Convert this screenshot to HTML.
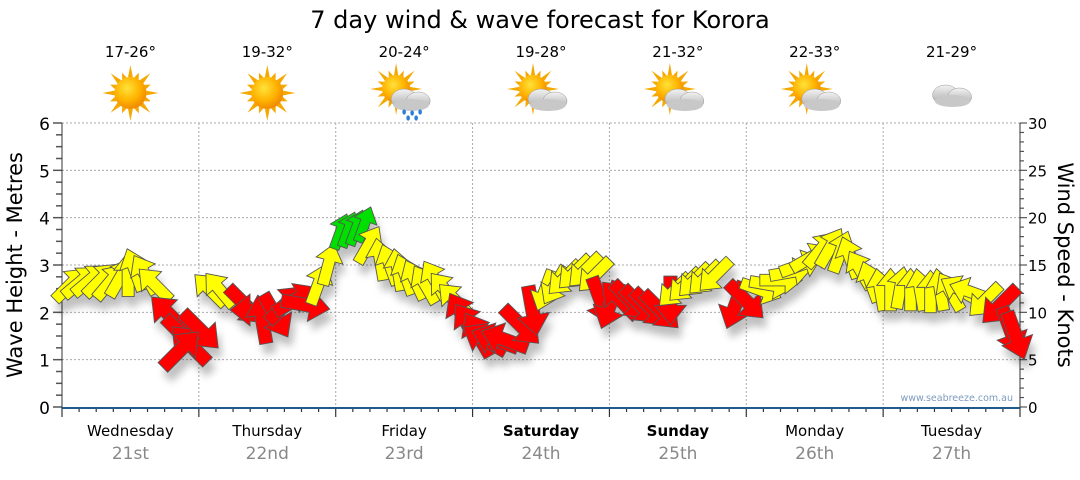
<!DOCTYPE html>
<html><head><meta charset="utf-8"><style>
body{margin:0;background:#fff;font-family:"Liberation Sans",sans-serif}
svg text{font-family:"DejaVu Sans","Liberation Sans",sans-serif}
</style></head><body>
<svg id="c" width="1080" height="475" viewBox="0 0 1080 475">
<defs>
<radialGradient id="sg" cx="40%" cy="35%" r="65%"><stop offset="0" stop-color="#ffe23a"/><stop offset="0.6" stop-color="#ffb300"/><stop offset="1" stop-color="#f08a00"/></radialGradient>
<linearGradient id="cg" x1="0" y1="0" x2="0" y2="1"><stop offset="0" stop-color="#f2f2f2"/><stop offset="1" stop-color="#a8a8a8"/></linearGradient>
<filter id="sh" x="-50%" y="-50%" width="200%" height="200%"><feGaussianBlur stdDeviation="4"/></filter>
</defs>
<text x="540" y="28" text-anchor="middle" font-size="24" fill="#000">7 day wind &amp; wave forecast for Korora</text>
<g id="grid"></g><g id="axes"></g><g id="icons"></g><g id="marks"></g>
<text x="1013" y="401" text-anchor="end" font-size="9.5" fill="#7d9bbf">www.seabreeze.com.au</text>
<text transform="translate(22,265) rotate(-90)" text-anchor="middle" font-size="21">Wave Height - Metres</text>
<text transform="translate(1058,265) rotate(90)" text-anchor="middle" font-size="21">Wind Speed - Knots</text>
</svg>
<script>
const days=["Wednesday","Thursday","Friday","Saturday","Sunday","Monday","Tuesday"];
const dates=["21st","22nd","23rd","24th","25th","26th","27th"];
const temps=["17-26°","19-32°","20-24°","19-28°","21-32°","22-33°","21-29°"];
const weather=["sun","sun","rain","partly","partly","partly","cloud"];
const leftTicks=[0,1,2,3,4,5,6];
const rightTicks=[0,5,10,15,20,25,30];
const hours=[1.4,3.2,4.9,6.7,8.4,10.2,11.6,12.8,14.6,16.3,18.9,21.1,22.5,24.2,20.7,26,27.7,32.1,33.9,35.1,37.4,39.1,40.9,42.6,44.9,46.7,48.8,50.2,51.6,53,53.7,55.8,57.5,58.9,60.2,61.9,63.7,65.4,67.2,68.9,70.2,71.6,73,74.2,76,77.7,80.4,82.5,84.7,86.5,88.2,90,91.8,93.5,94.4,96.1,97.9,99.6,101.4,103.2,104.9,106.7,107.5,109.3,111,112.8,114.6,118.1,119.8,122.5,124.2,126,127.7,129.5,131.2,133,134.7,136.5,138.2,140,141.8,143.5,145.3,147,148.8,150.5,152.3,154,155.8,157.5,159.3,161.9,164.6,166.3,167.2];
const waves=[2.58,2.64,2.68,2.68,2.64,2.73,2.79,2.89,2.79,2.58,1.94,1.52,1.31,1.63,1.2,2.47,2.47,2.16,2.05,1.84,1.94,2.16,2.26,2.16,2.58,3.0,3.7,3.74,3.78,3.85,3.42,3.11,3.0,2.89,2.79,2.68,2.58,2.68,2.47,2.26,1.94,1.73,1.52,1.42,1.42,1.42,1.73,2.05,2.47,2.58,2.73,2.85,2.89,2.79,2.26,2.16,2.26,2.26,2.16,2.1,2.05,2.26,2.47,2.58,2.68,2.73,2.79,2.16,2.26,2.47,2.58,2.68,2.85,3.0,3.15,3.32,3.36,3.27,3.15,2.89,2.64,2.47,2.47,2.51,2.47,2.47,2.43,2.47,2.43,2.47,2.43,2.26,2.16,1.63,1.52];
const dirs=[45,50,50,45,40,30,0,-20,-30,-45,-45,135,-45,135,45,-45,-40,135,-90,-10,150,45,60,100,20,15,20,20,20,20,30,-10,-20,-10,-20,-25,-30,-30,-40,-45,-30,-35,-30,-60,-70,-70,135,170,200,210,225,225,225,225,160,200,-45,135,135,135,135,180,225,225,225,225,225,200,135,110,100,90,80,70,60,40,30,20,-20,-30,-20,-10,0,10,0,-10,0,-10,-30,-60,-70,225,225,160,160];
const speeds=[15,15,15,15,15,15,16,16,15,15,22,22,22,22,22,14,14,21,21,21,21,21,21,21,14,14,8,8,8,8,13,14,14,14,14,14,14,14,14,14,21,21,21,21,21,21,22,22,14,14,15,15,15,15,21,21,21,21,21,21,21,21,14,14,14,14,14,21,21,14,14,14,14,15,15,15,15,15,15,14,14,14,14,14,14,14,14,14,14,14,14,14,21,21,22,22];
const NS="http://www.w3.org/2000/svg";
const X0=62,X1=1020,Y0=407,Y6=123;
const xs=h=>X0+h*(X1-X0)/168;
const ym=m=>Y0-m*(Y0-Y6)/6;
const yk=k=>Y0-k*(Y0-Y6)/30;
function el(tag,at,parent){const e=document.createElementNS(NS,tag);for(const k in at)e.setAttribute(k,at[k]);parent.appendChild(e);return e;}
const grid=document.getElementById('grid'),axes=document.getElementById('axes'),icons=document.getElementById('icons'),marks=document.getElementById('marks');
leftTicks.forEach(v=>{if(v>0){const g=el('line',{x1:X0,x2:X1,y1:ym(v),y2:ym(v),stroke:'#aaa','stroke-dasharray':'2,2','stroke-width':1},grid);

}
const t=el('text',{x:50,y:ym(v)+7,'text-anchor':'end','font-size':17},axes);t.textContent=v;

});
for(let i=0;i<=24;i++){const v=i*0.25;el('line',{x1:i%4==0?53:56,x2:X0,y1:ym(v),y2:ym(v),stroke:'#555','stroke-width':1.5},axes);}
rightTicks.forEach(v=>{const t=el('text',{x:1028,y:yk(v)+6,'font-size':15},axes);t.textContent=v;

});
for(let i=0;i<=30;i++){el('line',{x1:X1,x2:i%5==0?1027:1024,y1:yk(i),y2:yk(i),stroke:'#555','stroke-width':1.2},axes);}
el('line',{x1:X0,x2:X0,y1:Y6,y2:Y0,stroke:'#333'},axes);
el('line',{x1:X1,x2:X1,y1:Y6,y2:Y0,stroke:'#333'},axes);
for(let d=1;d<7;d++){const g=el('line',{x1:xs(d*24),x2:xs(d*24),y1:Y6,y2:Y0,stroke:'#aaa','stroke-dasharray':'2,2'},grid);

}
for(let h=0;h<=168;h+=3){el('line',{x1:xs(h),x2:xs(h),y1:Y0,y2:h%24==0?417:412,stroke:'#333','stroke-width':1.2},axes);}
el('line',{x1:X0,x2:X1,y1:Y0+1,y2:Y0+1,stroke:'#1f5a8a','stroke-width':2},axes);
days.forEach((d,i)=>{const cx=xs(i*24+12);
const t=el('text',{x:cx,y:436,'text-anchor':'middle','font-size':15,'font-weight':(i==3||i==4)?'bold':'normal'},axes);t.textContent=d;


const t2=el('text',{x:cx,y:459,'text-anchor':'middle','font-size':17,fill:'#888'},axes);t2.textContent=dates[i];


const t3=el('text',{x:cx,y:57,'text-anchor':'middle','font-size':15},icons);t3.textContent=temps[i];


const g=el('g',{transform:`translate(${cx},${93})`},icons);


const w=weather[i];
if(w!="cloud"){const sx=w=="sun"?0:-8,sy=w=="sun"?0:-4,r=w=="sun"?16:14;
for(let a=0;a<16;a++){const ang=a*Math.PI/8,L=(a%2?r+6:r+12);
const p1=[sx+Math.cos(ang)*L,sy+Math.sin(ang)*L],p2=[sx+Math.cos(ang+0.15)*r,sy+Math.sin(ang+0.15)*r],p3=[sx+Math.cos(ang-0.15)*r,sy+Math.sin(ang-0.15)*r];
el('polygon',{points:[p1,p2,p3].map(p=>p.join(',')).join(' '),fill:'#f5a800'},g);}
el('circle',{cx:sx,cy:sy,r:r,fill:'url(#sg)'},g);}
if(w!="sun"){const ox=w=="cloud"?0:6,oy=w=="cloud"?0:4;
el('ellipse',{cx:ox-6,cy:oy+2,rx:13,ry:10,fill:'url(#cg)',stroke:'#999','stroke-width':0.5},g);
el('ellipse',{cx:ox+8,cy:oy+4,rx:12,ry:9,fill:'url(#cg)',stroke:'#999','stroke-width':0.5},g);
el('ellipse',{cx:ox+1,cy:oy+8,rx:18,ry:6,fill:'#c8c8c8'},g);
if(w=="rain"){[[-6,15],[2,16],[10,15],[-2,21],[6,21]].forEach(p=>el('ellipse',{cx:ox+p[0],cy:oy+p[1],rx:1.8,ry:2.6,fill:'#2b7fd8'},g));}}
});
const shadowG=el('g',{filter:'url(#sh)',opacity:0.25},marks);
hours.forEach((h,i)=>{const s=speeds[i];const col=s>=20?'#ff0000':(s>=10?'#ffff00':'#00e000');
const k=0.8+s/40;
const pts=[[-5,18],[5,18],[5,-4],[12,-4],[0,-19],[-12,-4],[-5,-4]].map(p=>(p[0]*k).toFixed(1)+','+(p[1]*k).toFixed(1)).join(' ');
const x=xs(h),y=ym(waves[i]);
el('polygon',{points:pts,fill:'#000',transform:`translate(${x+4},${y+10}) rotate(${dirs[i]})`},shadowG);
const a=el('polygon',{points:pts,fill:col,stroke:'#555','stroke-width':0.9,transform:`translate(${x},${y}) rotate(${dirs[i]})`},marks);

});
</script>
</body></html>
